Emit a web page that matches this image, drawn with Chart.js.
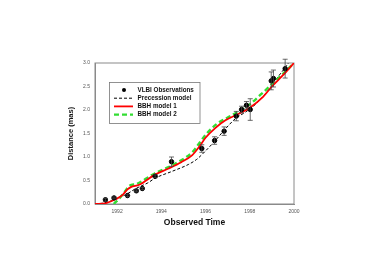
<!DOCTYPE html>
<html>
<head>
<meta charset="utf-8">
<script src="https://cdn.jsdelivr.net/npm/chart.js@4"></script>
<style>
  html, body { margin: 0; padding: 0; background: #fff; }
  #wrap { width: 374px; height: 264px; }
</style>
</head>
<body>
<div id="wrap"><canvas id="chart"></canvas></div>
<script>
// VLBI observations (year, distance in mas, error)
const obsYears = [1991.47, 1991.86, 1992.47, 1992.87, 1993.14, 1993.72, 1994.46, 1995.83, 1996.41, 1996.84, 1997.39, 1997.63, 1997.85, 1998.02, 1998.97, 1999.07, 1999.6];
const obsDist  = [0.09, 0.13, 0.18, 0.28, 0.33, 0.59, 0.90, 1.18, 1.35, 1.55, 1.87, 2.01, 2.10, 2.01, 2.62, 2.67, 2.88];
const obsErr   = [0.03, 0.02, 0.02, 0.02, 0.02, 0.03, 0.10, 0.08, 0.08, 0.09, 0.10, 0.07, 0.08, 0.23, 0.19, 0.18, 0.20];

// precession model
const precYears = [1991.0, 1991.5, 1991.86, 1992.47, 1992.85, 1993.39, 1993.72, 1994.46, 1995.22, 1995.6, 1995.98, 1996.44, 1996.9, 1997.36, 1997.82, 1998.28, 1998.89, 1999.3, 1999.55, 1999.75];
const precDist  = [0.0, 0.03, 0.09, 0.22, 0.33, 0.45, 0.55, 0.69, 0.84, 0.95, 1.12, 1.35, 1.60, 1.82, 1.96, 2.13, 2.45, 2.72, 2.87, 3.0];

// BBH model 1
const bbh1Years = [1991.0, 1991.5, 1991.93, 1992.24, 1992.47, 1992.62, 1993.0, 1993.69, 1994.3, 1994.9, 1995.4, 1995.7, 1996.0, 1996.45, 1996.9, 1997.5, 1998.0, 1998.6, 1999.0, 1999.5, 2000.0];
const bbh1Dist  = [0.0, 0.02, 0.10, 0.19, 0.31, 0.36, 0.41, 0.62, 0.75, 0.89, 1.04, 1.21, 1.41, 1.62, 1.78, 1.92, 2.05, 2.28, 2.50, 2.74, 3.0];

// BBH model 2
const bbh2Years = [1991.85, 1992.16, 1992.39, 1992.54, 1992.9, 1993.7, 1994.3, 1994.9, 1995.4, 1995.7, 1996.0, 1996.5, 1997.0, 1997.5, 1998.0, 1998.5, 1999.0, 1999.5, 2000.0];
const bbh2Dist  = [0.0, 0.15, 0.29, 0.38, 0.43, 0.65, 0.78, 0.93, 1.10, 1.28, 1.47, 1.70, 1.84, 1.97, 2.12, 2.33, 2.55, 2.77, 3.0];

const xTicks = [1992, 1994, 1996, 1998, 2000];
const yTicks = [0.0, 0.5, 1.0, 1.5, 2.0, 2.5, 3.0];

const legendLabels = ['VLBI Observations', 'Precession model', 'BBH model 1', 'BBH model 2'];

const pts = (xs, ys) => xs.map((x, i) => ({x: x, y: ys[i]}));

const axisColor = '#8a8a8a';
const tickFont = {family: 'Liberation Sans, Arial, sans-serif', size: 5};

// error bars + frame + legend box
const extras = {
  id: 'extras',
  beforeDatasetsDraw(chart) {
    const {ctx, chartArea: a} = chart;
    ctx.save();
    ctx.strokeStyle = axisColor;
    ctx.lineWidth = 1;
    ctx.strokeRect(a.left, a.top, a.right - a.left, a.bottom - a.top);
    ctx.restore();
  },
  afterDatasetsDraw(chart) {
    const {ctx} = chart;
    const xs = chart.scales.x, ys = chart.scales.y;
    ctx.save();
    ctx.strokeStyle = '#444';
    ctx.lineWidth = 0.8;
    obsYears.forEach((yr, i) => {
      const px = xs.getPixelForValue(yr);
      const top = ys.getPixelForValue(obsDist[i] + obsErr[i]);
      const bot = ys.getPixelForValue(obsDist[i] - obsErr[i]);
      ctx.beginPath();
      ctx.moveTo(px, top); ctx.lineTo(px, bot);
      ctx.moveTo(px - 2.5, top); ctx.lineTo(px + 2.5, top);
      ctx.moveTo(px - 2.5, bot); ctx.lineTo(px + 2.5, bot);
      ctx.stroke();
    });
    ctx.restore();

    // legend
    const bx = 109.5, by = 82.5, bw = 90.5, bh = 41;
    ctx.save();
    ctx.fillStyle = '#fff';
    ctx.fillRect(bx, by, bw, bh);
    ctx.strokeStyle = '#777';
    ctx.lineWidth = 0.8;
    ctx.strokeRect(bx, by, bw, bh);
    ctx.font = 'bold 6.3px Liberation Sans, Arial, sans-serif';
    ctx.textBaseline = 'middle';
    ctx.fillStyle = '#111';
    const ds = chart.data.datasets;
    legendLabels.forEach((lbl, i) => {
      const cy = by + 7.5 + i * 8.2;
      const d = ds[i];
      if (i === 0) {
        ctx.beginPath();
        ctx.arc(124, cy, 2, 0, Math.PI * 2);
        ctx.fillStyle = '#000';
        ctx.fill();
      } else {
        ctx.beginPath();
        ctx.strokeStyle = d.borderColor;
        ctx.lineWidth = d.borderWidth;
        ctx.setLineDash(d.borderDash || []);
        ctx.moveTo(114, cy); ctx.lineTo(133, cy);
        ctx.stroke();
        ctx.setLineDash([]);
      }
      ctx.fillStyle = '#111';
      ctx.fillText(lbl, 137.5, cy);
    });
    ctx.restore();
  }
};

new Chart(document.getElementById('chart'), {
  type: 'scatter',
  data: {
    datasets: [
      {
        label: legendLabels[0],
        data: pts(obsYears, obsDist),
        backgroundColor: '#000',
        borderColor: '#000',
        pointRadius: 2.2,
        order: 0
      },
      {
        label: legendLabels[1],
        type: 'line',
        data: pts(precYears, precDist),
        borderColor: '#000',
        borderWidth: 1,
        borderDash: [3, 2],
        pointRadius: 0,
        cubicInterpolationMode: 'monotone',
        order: 3
      },
      {
        label: legendLabels[2],
        type: 'line',
        data: pts(bbh1Years, bbh1Dist),
        borderColor: '#ff0000',
        borderWidth: 1.8,
        pointRadius: 0,
        cubicInterpolationMode: 'monotone',
        order: 1
      },
      {
        label: legendLabels[3],
        type: 'line',
        data: pts(bbh2Years, bbh2Dist),
        borderColor: '#33dd33',
        borderWidth: 2.4,
        borderDash: [5, 3],
        pointRadius: 0,
        cubicInterpolationMode: 'monotone',
        order: 2
      }
    ]
  },
  options: {
    responsive: true,
    maintainAspectRatio: false,
    animation: false,
    events: [],
    layout: { padding: {left: 66, right: 80, top: 63, bottom: 36} },
    plugins: { legend: {display: false}, tooltip: {enabled: false} },
    scales: {
      x: {
        type: 'linear',
        min: 1991, max: 2000,
        afterBuildTicks: s => { s.ticks = xTicks.map(v => ({value: v})); },
        afterFit: s => { s.height = 24; },
        grid: {display: false, drawTicks: true, tickLength: 3, tickColor: axisColor},
        border: {display: true, color: axisColor},
        ticks: {font: tickFont, color: '#555', padding: 2, maxRotation: 0, callback: v => String(v)},
        title: {display: true, text: 'Observed Time', color: '#111', padding: {top: 3, bottom: 0},
                font: {family: 'Liberation Sans, Arial, sans-serif', size: 8.5, weight: 'bold'}}
      },
      y: {
        min: 0, max: 3,
        afterBuildTicks: s => { s.ticks = yTicks.map(v => ({value: v})); },
        afterFit: s => { s.width = 29; },
        grid: {display: false, drawTicks: true, tickLength: 3, tickColor: axisColor},
        border: {display: true, color: axisColor},
        ticks: {font: tickFont, color: '#555', padding: 2, callback: v => v.toFixed(1)},
        title: {display: true, text: 'Distance (mas)', color: '#111', padding: {top: 0, bottom: 4},
                font: {family: 'Liberation Sans, Arial, sans-serif', size: 7.5, weight: 'bold'}}
      }
    }
  },
  plugins: [extras]
});
</script>
</body>
</html>
